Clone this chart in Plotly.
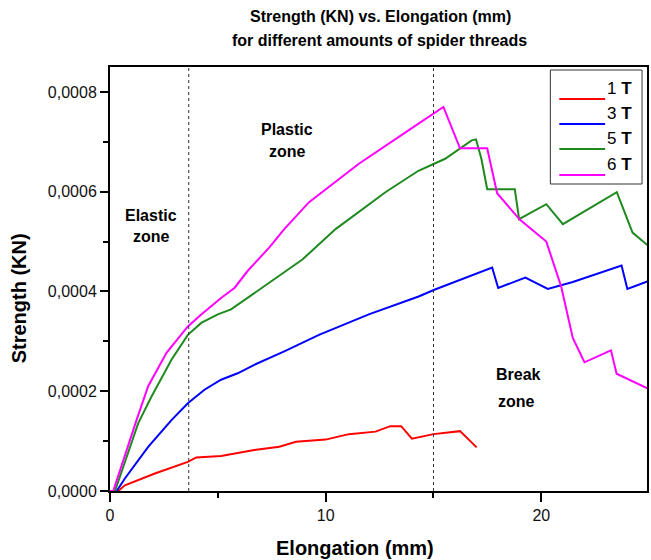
import plotly.graph_objects as go

# ---------------- data ----------------
x_1T = [0, 0.38, 0.69, 2.08, 3.61, 4.0, 5.15, 6.69, 7.85, 8.62, 10.0, 11.08, 12.31, 13.0, 13.5, 14.0, 15.0, 16.23, 17.0]
y_1T = [0, 0, 0.0000115, 0.000035, 0.0000584, 0.0000672, 0.00007, 0.000082, 0.0000886, 0.0000987, 0.000103,
        0.000114, 0.000119, 0.00013, 0.00013, 0.000105, 0.000114, 0.00012, 0.0000874]

x_3T = [0, 0.31, 0.69, 1.77, 2.85, 3.61, 4.38, 5.15, 5.92, 6.69, 8.08, 9.69, 12.0, 14.31, 15.07, 15.69,
        17.72, 18.0, 19.26, 20.3, 21.46, 23.72, 23.99, 24.97]
y_3T = [0, 0, 0.000025, 0.0000886, 0.000142, 0.000176, 0.000203, 0.000223, 0.000236, 0.000253, 0.00028,
        0.000313, 0.000354, 0.00039, 0.000404, 0.000414, 0.000448, 0.000407, 0.000428, 0.000405, 0.000419,
        0.000452, 0.000405, 0.000421]

x_5T = [0, 0.23, 1.31, 1.92, 2.85, 3.61, 4.23, 5.0, 5.61, 6.38, 7.3, 8.08, 8.92, 10.46, 12.77, 14.3, 15.54,
        16.77, 16.97, 17.22, 17.49, 18.77, 18.97, 20.23, 21.0, 23.5, 24.23, 24.97]
y_5T = [0, 0, 0.000136, 0.000189, 0.000263, 0.000313, 0.000337, 0.000354, 0.000364, 0.000387, 0.000414,
        0.000438, 0.000464, 0.000525, 0.000599, 0.000642, 0.000666, 0.000703, 0.000705, 0.000666, 0.000605,
        0.000605, 0.000545, 0.000575, 0.000535, 0.000599, 0.000518, 0.000491]

x_6T = [0, 0.15, 1.23, 1.77, 2.62, 3.61, 4.23, 5.15, 5.77, 6.38, 7.38, 8.08, 9.23, 11.54, 13.84, 14.99, 15.46,
        16.23, 17.49, 17.95, 19.0, 20.23, 20.92, 21.46, 22.0, 23.23, 23.49, 24.97]
y_6T = [0, 0, 0.000142, 0.00021, 0.000277, 0.00033, 0.000354, 0.000387, 0.000407, 0.000441, 0.000488,
        0.000525, 0.000579, 0.000656, 0.000723, 0.000756, 0.00077, 0.000687, 0.000687, 0.000597, 0.000544,
        0.0005, 0.00041, 0.000307, 0.000258, 0.000282, 0.000235, 0.000205]

series_names = ["1 T", "3 T", "5 T", "6 T"]
series_colors = ["#FF0000", "#0000FF", "#1E8A1E", "#FF00FF"]

x_tickvals = [0, 10, 20]
x_ticktext = ["0", "10", "20"]
y_tickvals = [0, 0.0002, 0.0004, 0.0006, 0.0008]
y_ticktext = ["0,0000", "0,0002", "0,0004", "0,0006", "0,0008"]

zone_bounds = [3.65, 15.0]

# ---------------- figure ----------------
FONT = "Liberation Sans, Arial, sans-serif"
W, H = 651, 560
L, R, T, B = 110, 2, 67, 69

def px2x(px):
    return (px - L) / (W - L - R)

def py2y(py):
    return (H - B - py) / (H - T - B)

fig = go.Figure()
xs = [x_1T, x_3T, x_5T, x_6T]
ys = [y_1T, y_3T, y_5T, y_6T]
for xv, yv, name, col in zip(xs, ys, series_names, series_colors):
    fig.add_trace(go.Scatter(x=xv, y=yv, mode="lines", name=name,
                             line=dict(color=col, width=2), showlegend=False))

shapes = []
for xb in zone_bounds:
    shapes.append(dict(type="line", xref="x", yref="paper", x0=xb, x1=xb, y0=0, y1=1,
                       line=dict(color="#333333", width=1, dash="dot")))

# manual legend box
shapes.append(dict(type="rect", xref="paper", yref="paper",
                   x0=px2x(552), x1=px2x(644), y0=py2y(184), y1=py2y(70),
                   line=dict(color="#333333", width=1), fillcolor="white"))

annotations = []
leg_line_y = [99, 124, 149, 175]
for i, (name, col) in enumerate(zip(series_names, series_colors)):
    ly = leg_line_y[i]
    shapes.append(dict(type="line", xref="paper", yref="paper",
                       x0=px2x(561), x1=px2x(607), y0=py2y(ly), y1=py2y(ly),
                       line=dict(color=col, width=2)))
    num, letter = name.split(" ")
    annotations.append(dict(xref="paper", yref="paper", x=px2x(607), y=py2y(ly - 11),
                            text=f"{num} <b>{letter}</b>", showarrow=False,
                            xanchor="left", yanchor="middle",
                            font=dict(family=FONT, size=17, color="black")))

# title
annotations.append(dict(xref="paper", yref="paper", x=px2x(382), y=py2y(17),
                        text="<b>Strength (KN) vs. Elongation (mm)</b>", showarrow=False,
                        xanchor="center", yanchor="middle", font=dict(family=FONT, size=16, color="black")))
annotations.append(dict(xref="paper", yref="paper", x=px2x(381), y=py2y(40),
                        text="<b>for different amounts of spider threads</b>", showarrow=False,
                        xanchor="center", yanchor="middle", font=dict(family=FONT, size=16, color="black")))

# axis titles
annotations.append(dict(xref="paper", yref="paper", x=px2x(356), y=py2y(548),
                        text="<b>Elongation (mm)</b>", showarrow=False,
                        xanchor="center", yanchor="middle", font=dict(family=FONT, size=20, color="black")))
annotations.append(dict(xref="paper", yref="paper", x=px2x(19), y=py2y(298),
                        text="<b>Strength (KN)</b>", showarrow=False, textangle=-90,
                        xanchor="center", yanchor="middle", font=dict(family=FONT, size=20, color="black")))

# zone labels
zone_labels = [("Elastic", 1.92, 0.000553), ("zone", 1.92, 0.000511),
               ("Plastic", 8.21, 0.000725), ("zone", 8.21, 0.00068),
               ("Break", 18.92, 0.000233), ("zone", 18.85, 0.000179)]
for txt, zx, zy in zone_labels:
    annotations.append(dict(xref="x", yref="y", x=zx, y=zy, text=f"<b>{txt}</b>", showarrow=False,
                            xanchor="center", yanchor="middle",
                            font=dict(family=FONT, size=16, color="black")))

fig.update_layout(
    width=W, height=H,
    margin=dict(l=L, r=R, t=T, b=B, pad=0),
    paper_bgcolor="white", plot_bgcolor="white",
    shapes=shapes, annotations=annotations,
    font=dict(family=FONT, size=16, color="black"),
)
fig.update_xaxes(range=[0, 24.9], tickvals=x_tickvals, ticktext=x_ticktext,
                 ticks="outside", ticklen=9, tickwidth=1.5, tickcolor="black",
                 minor=dict(dtick=5, tick0=0, ticks="outside", ticklen=5, tickwidth=1.5, tickcolor="black"),
                 showline=True, linecolor="black", linewidth=2, mirror=True,
                 showgrid=False, zeroline=False,
                 tickfont=dict(family=FONT, size=16, color="#111111"))
fig.update_yaxes(range=[0, 0.00085], tickvals=y_tickvals, ticktext=y_ticktext,
                 ticks="outside", ticklen=8, tickwidth=1.5, tickcolor="black",
                 minor=dict(dtick=0.0001, tick0=0, ticks="outside", ticklen=5, tickwidth=1.5, tickcolor="black"),
                 showline=True, linecolor="black", linewidth=2, mirror=True,
                 showgrid=False, zeroline=False,
                 tickfont=dict(family=FONT, size=16, color="#111111"))

fig.write_html("out.html")
